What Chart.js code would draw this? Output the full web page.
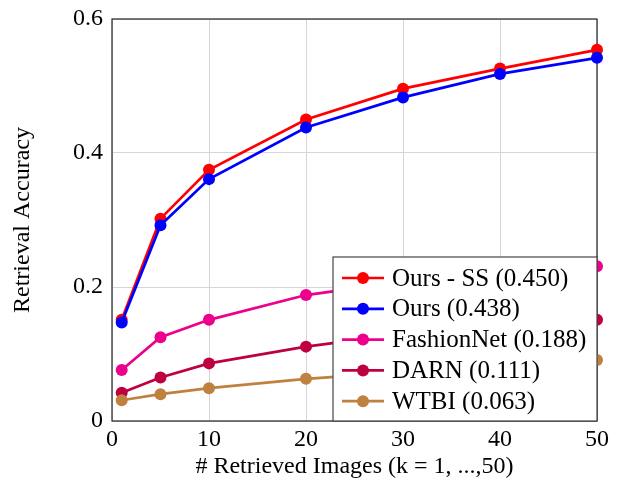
<!DOCTYPE html>
<html>
<head>
<meta charset="utf-8">
<script src="https://cdn.jsdelivr.net/npm/chart.js@4"></script>
<style>
    html, body { margin: 0; padding: 0; background: #fff; }
    #wrap { width: 618px; height: 489px; }
</style>
</head>
<body>
<div id="wrap"><canvas id="retrieval-chart"></canvas></div>
<script>
    'use strict';

    // k values along the x axis
    var kValues = [1, 5, 10, 20, 30, 40, 50];

    var oursSS = [0.151, 0.302, 0.375, 0.450, 0.496, 0.526, 0.554];
    var ours = [0.147, 0.292, 0.361, 0.438, 0.483, 0.518, 0.542];
    var fashionNet = [0.076, 0.125, 0.151, 0.188, 0.208, 0.220, 0.231];
    var darn = [0.042, 0.065, 0.086, 0.111, 0.130, 0.142, 0.151];
    var wtbi = [0.031, 0.040, 0.049, 0.063, 0.073, 0.082, 0.091];

    var seriesNames = ['Ours - SS (0.450)', 'Ours (0.438)', 'FashionNet (0.188)', 'DARN (0.111)', 'WTBI (0.063)'];
    var seriesColors = ['#ff0000', '#0000ff', '#ec008c', '#bf0040', '#bf8040'];

    var xTicks = [0, 10, 20, 30, 40, 50];
    var yTicks = [0, 0.2, 0.4, 0.6];

    var serifFont = "'Liberation Serif', 'Times New Roman', serif";

    function toPoints(values) {
        return values.map(function (v, i) {
            return {x: kValues[i], y: v};
        });
    }

    var datasets = [oursSS, ours, fashionNet, darn, wtbi].map(function (values, i) {
        return {
            label: seriesNames[i],
            data: toPoints(values),
            borderColor: seriesColors[i],
            backgroundColor: seriesColors[i],
            borderWidth: 2.7,
            pointRadius: 6,
            pointBorderWidth: 0,
            pointBackgroundColor: seriesColors[i],
            tension: 0,
            clip: false,
            order: 5 - i
        };
    });

    // box round the plot area, like pgfplots draws it
    var framePlugin = {
        id: 'frame',
        beforeDatasetsDraw: function (chart) {
            var ctx = chart.ctx,
                area = chart.chartArea;
            ctx.save();
            ctx.strokeStyle = '#222';
            ctx.lineWidth = 1.2;
            ctx.strokeRect(area.left, area.top, area.right - area.left, area.bottom - area.top);
            ctx.restore();
        }
    };

    // legend sits inside the plot, bottom right corner
    var insideLegend = {
        id: 'insideLegend',
        afterDraw: function (chart) {
            var ctx = chart.ctx,
                area = chart.chartArea,
                boxW = 264,
                boxH = 164,
                left = area.right - boxW,
                top = area.bottom - boxH;
            ctx.save();
            ctx.fillStyle = '#fff';
            ctx.fillRect(left, top, boxW, boxH);
            ctx.strokeStyle = '#444';
            ctx.lineWidth = 1.2;
            ctx.strokeRect(left, top, boxW, boxH);

            ctx.font = '25px ' + serifFont;
            ctx.textBaseline = 'middle';
            ctx.textAlign = 'left';
            chart.data.datasets.forEach(function (ds, i) {
                var cy = top + 21 + i * 30.8;
                ctx.strokeStyle = ds.borderColor;
                ctx.lineWidth = 2.7;
                ctx.beginPath();
                ctx.moveTo(left + 9, cy);
                ctx.lineTo(left + 51, cy);
                ctx.stroke();
                ctx.fillStyle = ds.borderColor;
                ctx.beginPath();
                ctx.arc(left + 30, cy, 6, 0, Math.PI * 2);
                ctx.fill();
                ctx.fillStyle = '#000';
                ctx.fillText(ds.label, left + 59, cy + 1);
            });
            ctx.restore();
        }
    };

    Chart.defaults.font.family = serifFont;
    Chart.defaults.font.size = 24;
    Chart.defaults.color = '#000';

    var chart = new Chart(document.getElementById('retrieval-chart'), {
        type: 'line',
        data: {datasets: datasets},
        options: {
            responsive: true,
            maintainAspectRatio: false,
            animation: false,
            layout: {
                padding: {top: 19, right: 21, left: 0, bottom: 0}
            },
            plugins: {
                legend: {display: false},
                tooltip: {enabled: false}
            },
            scales: {
                x: {
                    type: 'linear',
                    min: 0,
                    max: 50,
                    afterBuildTicks: function (scale) {
                        scale.ticks = xTicks.map(function (v) { return {value: v}; });
                    },
                    afterFit: function (scale) {
                        scale.height = 68;
                    },
                    ticks: {
                        padding: 4,
                        maxRotation: 0,
                        callback: function (v) { return String(v); }
                    },
                    grid: {color: '#d6d6d6', lineWidth: 1, drawTicks: false},
                    border: {display: false},
                    title: {
                        display: true,
                        text: '# Retrieved Images (k = 1, ...,50)',
                        padding: {top: 0, bottom: 8}
                    }
                },
                y: {
                    min: 0,
                    max: 0.6,
                    afterBuildTicks: function (scale) {
                        scale.ticks = yTicks.map(function (v) { return {value: v}; });
                    },
                    afterFit: function (scale) {
                        scale.width = 112;
                        scale.paddingTop = 0;
                        scale.paddingBottom = 0;
                    },
                    ticks: {
                        padding: 9,
                        callback: function (v) { return v === 0 ? '0' : v.toFixed(1); }
                    },
                    grid: {color: '#d6d6d6', lineWidth: 1, drawTicks: false},
                    border: {display: false},
                    title: {
                        display: true,
                        text: 'Retrieval Accuracy',
                        padding: {top: 8, bottom: 0}
                    }
                }
            }
        },
        plugins: [framePlugin, insideLegend]
    });
</script>
</body>
</html>
